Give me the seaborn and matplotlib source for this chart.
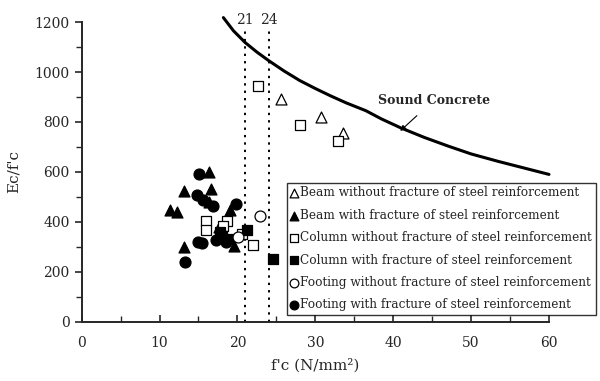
"""
Ec/f'c versus f'c scatter with the sound concrete curve.
"""

import matplotlib
matplotlib.use("Agg")
import matplotlib.pyplot as plt
import numpy as np
import pandas as pd
import seaborn as sns
from matplotlib.ticker import MultipleLocator

# ─── Data ────────────────────────────────────────────────────────────
beam_open_fc = [25.6, 30.7, 33.6]
beam_open_ratio = [894, 818, 754]

beam_fill_fc = [16.4, 13.2, 16.6, 16.3, 11.3, 12.3, 19.0, 13.2, 19.5, 17.6]
beam_fill_ratio = [600, 523, 530, 480, 447, 438, 447, 300, 302, 378]

col_open_fc = [22.6, 28.1, 32.9, 16.0, 16.0, 18.7, 18.2, 20.6, 22.0]
col_open_ratio = [943, 787, 725, 405, 368, 402, 385, 352, 307]

col_fill_fc = [21.2, 24.6, 18.0, 19.0, 17.8]
col_fill_ratio = [367, 250, 345, 330, 360]

foot_open_fc = [22.9, 20.1]
foot_open_ratio = [425, 340]

foot_fill_fc = [15.1, 14.8, 15.6, 16.9, 19.8, 13.3, 15.0, 15.4, 17.3, 18.5]
foot_fill_ratio = [590, 507, 487, 465, 472, 240, 318, 316, 327, 318]

# sound concrete curve
curve_fc = [18.2, 19.5, 21.0, 22.5, 24.0, 26.0, 28.0, 30.0, 32.0, 34.0,
            36.5, 38.5, 41.0, 44.0, 47.0, 50.0, 53.5, 57.0, 60.0]
curve_ratio = [1218, 1165, 1118, 1080, 1046, 1004, 966, 934, 904, 876,
               845, 812, 776, 738, 704, 672, 642, 614, 590]

limit_fc = [21, 24]

SERIES = [
    ("Beam without fracture of steel reinforcement", beam_open_fc, beam_open_ratio, "^", False),
    ("Beam with fracture of steel reinforcement", beam_fill_fc, beam_fill_ratio, "^", True),
    ("Column without fracture of steel reinforcement", col_open_fc, col_open_ratio, "s", False),
    ("Column with fracture of steel reinforcement", col_fill_fc, col_fill_ratio, "s", True),
    ("Footing without fracture of steel reinforcement", foot_open_fc, foot_open_ratio, "o", False),
    ("Footing with fracture of steel reinforcement", foot_fill_fc, foot_fill_ratio, "o", True),
]

sns.set_style("ticks")
plt.rcParams["font.family"] = ["DejaVu Serif"]

fig = plt.figure(figsize=(6, 3.81), dpi=100)
ax = fig.add_axes([0.136, 0.1556, 0.779, 0.7864])

# curve
curve_df = pd.DataFrame({"fc": curve_fc, "ratio": curve_ratio})
sns.lineplot(data=curve_df, x="fc", y="ratio", color="black", linewidth=2.2,
             ax=ax, sort=False, clip_on=False, zorder=3)

# limits at 21 and 24
ax.vlines(limit_fc, 0, 1175, colors="black", linewidth=1.4,
          linestyles=(0, (1.2, 2.6)), zorder=2)
for v in limit_fc:
    ax.text(v, 1210, str(v), ha="center", va="center", fontsize=10, clip_on=False)

# scatter series
for label, xs, ys, marker, filled in SERIES:
    df = pd.DataFrame({"fc": xs, "ratio": ys})
    sns.scatterplot(data=df, x="fc", y="ratio", marker=marker, s=62,
                    facecolor="black" if filled else "white",
                    edgecolor="black", linewidth=0.9, label=label,
                    ax=ax, zorder=4)

ax.annotate("Sound Concrete", xy=(40.9, 764), xytext=(45.2, 887),
            ha="center", va="center", fontsize=9, fontweight="bold",
            arrowprops=dict(arrowstyle="-|>", color="black", lw=0.8,
                            mutation_scale=8, shrinkA=6, shrinkB=0))

ax.set_xlim(0, 60)
ax.set_ylim(0, 1200)
ax.xaxis.set_major_locator(MultipleLocator(10))
ax.xaxis.set_minor_locator(MultipleLocator(5))
ax.yaxis.set_major_locator(MultipleLocator(200))
ax.yaxis.set_minor_locator(MultipleLocator(100))
ax.tick_params(axis="x", which="both", direction="in", labelsize=10, pad=10)
ax.tick_params(axis="x", which="major", length=5, width=1.2)
ax.tick_params(axis="x", which="minor", length=4, width=1.0)
ax.tick_params(axis="y", which="both", direction="out", labelsize=10)
ax.tick_params(axis="y", which="major", length=5, width=1.2)
ax.tick_params(axis="y", which="minor", length=4, width=1.0)
for side in ["left", "bottom"]:
    ax.spines[side].set_linewidth(1.4)
sns.despine(ax=ax)

ax.set_xlabel("f'c (N/mm²)", fontsize=11, labelpad=6)
ax.set_ylabel("Ec/f'c", fontsize=11, labelpad=10)

leg = ax.legend(loc="lower left", bbox_to_anchor=(0.4395, 0.022),
                borderaxespad=0, fontsize=8.7, frameon=True, fancybox=False,
                handlelength=0.6, handletextpad=0.2, labelspacing=0.78,
                borderpad=0.3, markerscale=0.8)
leg.get_frame().set_edgecolor("black")
leg.get_frame().set_linewidth(1.0)
leg.set_zorder(5)

plt.savefig("out.png", dpi=100)
plt.close()
